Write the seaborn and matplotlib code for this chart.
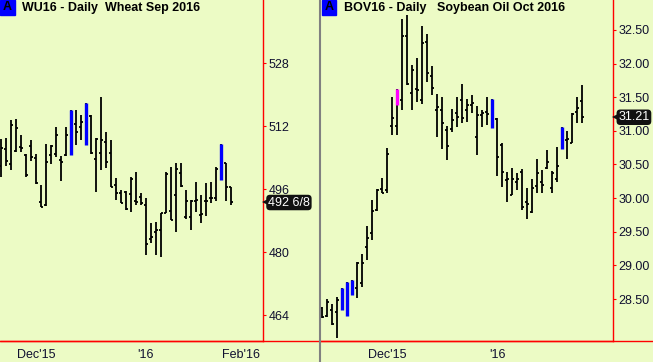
import numpy as np
import pandas as pd
import matplotlib
matplotlib.use("Agg")
import matplotlib.pyplot as plt
import matplotlib.ticker as mticker
import matplotlib.transforms as mtrans
from matplotlib.lines import Line2D
from matplotlib.patches import Rectangle
import seaborn as sns

BG = "#ECFBC5"
RED = "#FF0000"
INK = "#101030"

# exchange holidays skipped by the daily bars
HOLIDAYS = ["2015-11-26", "2015-12-25", "2016-01-01", "2016-01-18"]

# WU16 - Wheat Sep 2016, first bar 2015-11-19
wheat_start = "2015-11-19"
wheat_high = [508.8, 509.0, 513.6, 513.8, 509.8, 504.9, 508.5, 504.9, 497.1, 507.5,
              507.2, 511.8, 504.4, 511.8, 516.1, 516.1, 514.9, 517.9, 514.9, 509.0,
              519.4, 510.5, 508.5, 498.8, 495.8, 495.5, 499.1, 500.4, 495.0, 493.8,
              487.4, 487.6, 489.9, 500.4, 501.6, 502.6, 502.6, 495.8, 493.2, 497.8,
              494.5, 497.6, 497.8, 501.6, 507.5, 502.6, 496.5]
wheat_low = [499.1, 501.9, 500.9, 505.4, 505.4, 499.1, 503.2, 497.3, 491.5, 491.7,
             502.4, 504.2, 498.1, 504.4, 504.7, 507.2, 508.5, 507.2, 504.9, 495.3,
             500.9, 501.4, 496.5, 493.2, 492.5, 490.7, 490.2, 492.0, 492.0, 479.3,
             482.3, 479.3, 478.7, 489.9, 488.2, 485.1, 496.5, 488.4, 485.6, 490.2,
             487.4, 489.2, 492.5, 493.0, 498.3, 493.0, 492.0]
wheat_open = [501.9, 506.2, 502.4, 505.7, 506.7, 504.7, 507.0, 503.9, 492.7, 492.0,
              504.7, 504.9, 503.4, 504.7, None, 512.6, 511.8, None, 514.6, 503.7,
              505.2, 508.0, 505.2, 497.1, 495.0, 495.3, 494.8, 493.0, 494.0, 492.0,
              483.3, 485.1, 485.6, 489.9, 490.4, 494.5, 500.1, 488.9, 488.9, 493.0,
              489.4, 493.0, 493.8, 493.8, None, 502.6, 496.5]
wheat_close = [506.5, 503.2, 512.3, 511.5, 506.5, 499.6, 504.2, 497.6, 491.5, 502.9,
               507.0, 509.8, 502.9, 509.8, None, 510.5, 513.1, None, 505.2, 508.8,
               508.5, 502.9, 496.5, 495.0, 492.5, 491.0, 498.6, 492.7, 492.5, 482.1,
               483.8, 485.6, 489.9, 499.9, 488.2, 501.1, 496.8, 493.0, 493.0, 493.2,
               489.7, 493.0, 493.8, 501.1, None, 496.5, 492.75]
wheat_hl_idx = [14, 17, 44]
wheat_hl_top = [516.1, 517.9, 507.5]
wheat_hl_bot = [504.7, 507.2, 498.3]
wheat_hl_col = ["#0000FF", "#0000FF", "#0000FF"]
wheat_yticks = [464, 480, 496, 512, 528]
wheat_last = "492 6/8"
wheat_minor = ["2015-11-23", "2015-11-30", "2015-12-07", "2015-12-14", "2015-12-21",
               "2015-12-28", "2016-01-11", "2016-01-19", "2016-01-25"]
wheat_major = ["2015-12-01", "2016-01-04", "2016-02-01"]
wheat_major_lbl = ["Dec'15", "'16", "Feb'16"]

# BOV16 - Soybean Oil Oct 2016, first bar 2015-11-11
soy_start = "2015-11-11"
soy_high = [28.38, 28.50, 28.43, 28.53, 28.66, 28.75, 28.78, 29.05, 29.17, 29.59,
            29.97, 30.14, 30.30, 30.74, 31.50, 31.62, 32.66, 32.72, 31.98, 32.08,
            32.56, 32.44, 31.96, 31.55, 31.50, 31.07, 31.33, 31.50, 31.70, 31.47,
            31.53, 31.37, 31.31, 31.50, 31.47, 31.19, 30.82, 30.39, 30.45, 30.37,
            30.43, 30.15, 30.28, 30.58, 30.42, 30.72, 30.40, 30.76, 31.06, 31.00,
            31.27, 31.50, 31.68]
soy_low = [28.22, 28.23, 28.11, 27.92, 28.34, 28.25, 28.56, 28.51, 28.68, 29.08,
           29.38, 29.81, 30.08, 30.08, 30.94, 30.94, 31.31, 31.68, 31.31, 31.43,
           31.40, 31.73, 31.53, 30.91, 30.73, 30.57, 30.98, 31.06, 31.12, 31.13,
           31.27, 30.64, 31.06, 31.09, 31.04, 30.33, 30.17, 29.94, 30.05, 30.12,
           29.82, 29.69, 29.78, 30.08, 30.08, 30.43, 30.08, 30.24, 30.73, 30.58,
           30.82, 31.12, 31.12]
soy_open = [28.37, 28.25, 28.34, 28.31, None, None, None, 28.66, 28.74, 29.27,
            29.48, 29.82, 30.14, 30.12, 31.07, 31.07, 31.46, 32.41, 31.56, 31.62,
            31.46, 32.32, 31.82, 31.31, 31.31, 31.01, 31.03, 31.27, 31.46, 31.31,
            31.38, 30.91, 31.24, 31.28, None, 31.18, 30.79, 30.27, 30.05, 30.24,
            30.39, 29.94, 29.79, 30.18, 30.24, 30.45, 30.15, 30.28, None, 30.86,
            30.82, 31.28, 31.44]
soy_close = [28.23, 28.46, 28.13, 28.49, None, None, None, 29.04, 29.04, 29.41,
             29.81, 30.12, 30.08, 30.66, 31.19, None, 32.41, 31.70, 31.91, 31.61,
             32.31, 31.86, 31.64, 31.35, 31.12, 30.77, 31.16, 31.21, 31.19, 31.38,
             31.41, 31.24, 31.27, 31.25, None, 30.61, 30.39, 30.28, 30.28, 30.28,
             29.87, 29.91, 30.15, 30.37, 30.19, 30.54, 30.37, 30.48, None, 30.88,
             31.25, 31.34, 31.21]
soy_hl_idx = [4, 5, 6, 15, 34, 48]
soy_hl_top = [28.66, 28.75, 28.78, 31.62, 31.47, 31.06]
soy_hl_bot = [28.34, 28.25, 28.56, 31.38, 31.04, 30.73]
soy_hl_col = ["#0000FF", "#0000FF", "#0000FF", "#FF00FF", "#0000FF", "#0000FF"]
soy_yticks = [28.5, 29.0, 29.5, 30.0, 30.5, 31.0, 31.5, 32.0, 32.5]
soy_last = "31.21"
soy_minor = ["2015-11-16", "2015-11-23", "2015-11-30", "2015-12-07", "2015-12-14",
             "2015-12-21", "2015-12-28", "2016-01-11", "2016-01-19", "2016-01-25"]
soy_major = ["2015-12-01", "2016-01-04"]
soy_major_lbl = ["Dec'15", "'16"]

sns.set_theme(style="white", rc={"axes.facecolor": BG, "figure.facecolor": BG})
plt.rcParams["font.family"] = ["Liberation Sans", "DejaVu Sans"]

W, H = 653, 362
fig = plt.figure(figsize=(W / 100, H / 100), dpi=100)
base = 340.7  # pixel row of the red time axis


def day_pos(start, dates):
    cal = pd.bdate_range(start, "2016-03-31", freq="C", holidays=HOLIDAYS)
    return cal.get_indexer(pd.to_datetime(dates))


def panel(rect, start, high, low, opn, cls, hl_idx, hl_top, hl_bot, hl_col,
          xlim, ylim, yticks, yfmt, minor, major, major_lbl, last_lbl):
    ax = fig.add_axes(rect)
    x = np.arange(len(high))
    o = np.array(opn, dtype=float)
    c = np.array(cls, dtype=float)
    ax.vlines(x, low, high, color="black", lw=1.3)
    ax.hlines(o, x - 0.42, x, color="black", lw=1.3)
    ax.hlines(c, x, x + 0.42, color="black", lw=1.3)
    ax.vlines(hl_idx, hl_bot, hl_top, colors=hl_col, lw=2.4, zorder=3)

    ax.set_xlim(*xlim)
    ax.set_ylim(*ylim)
    for s in ("left", "top"):
        ax.spines[s].set_visible(False)
    for s in ("right", "bottom"):
        ax.spines[s].set_color(RED)
        ax.spines[s].set_linewidth(1.0)

    ax.yaxis.tick_right()
    ax.set_yticks(yticks)
    ax.yaxis.set_major_formatter(mticker.FormatStrFormatter(yfmt))
    ax.tick_params(axis="y", direction="out", length=2.3, width=0.8, color=RED,
                   labelcolor=INK, labelsize=9, pad=1.5)

    ax.xaxis.set_major_locator(mticker.FixedLocator(day_pos(start, major)))
    ax.xaxis.set_major_formatter(mticker.FixedFormatter(major_lbl))
    ax.xaxis.set_minor_locator(mticker.FixedLocator(day_pos(start, minor)))
    ax.tick_params(axis="x", which="major", direction="out", length=4.5, width=0.8,
                   color=RED, labelcolor=INK, labelsize=9, pad=1.5)
    ax.tick_params(axis="x", which="minor", direction="out", length=2.3, width=0.8,
                   color=RED)
    ax.set_xlabel("")
    ax.set_ylabel("")

    # last price tag on the price scale: pointer plus dark rounded box
    blend = mtrans.blended_transform_factory(ax.transAxes, ax.transData)
    tip = mtrans.offset_copy(blend, fig=fig, x=3.5, y=0, units="dots")
    ax.plot([1], [c[-1]], marker="<", ms=7, mew=0, color="#111111",
            transform=tip, clip_on=False, zorder=5)
    ax.annotate(last_lbl, xy=(1, c[-1]), xycoords=("axes fraction", "data"),
                xytext=(5, -0.5), textcoords="offset pixels", ha="left", va="center",
                color="white", fontsize=9, annotation_clip=False, zorder=6,
                bbox=dict(boxstyle="round,pad=0.14,rounding_size=0.3",
                          fc="#111111", ec="none"))
    return ax


bh = (H - base) / H
hh = base / H
panel([0, bh, 263 / W, hh], wheat_start, wheat_high, wheat_low, wheat_open,
      wheat_close, wheat_hl_idx, wheat_hl_top, wheat_hl_bot, wheat_hl_col,
      (-0.2, 52.4), (457.5, 544.1), wheat_yticks, "%d", wheat_minor, wheat_major,
      wheat_major_lbl, wheat_last)
panel([320.5 / W, bh, (613.3 - 320.5) / W, hh], soy_start, soy_high, soy_low,
      soy_open, soy_close, soy_hl_idx, soy_hl_top, soy_hl_bot, soy_hl_col,
      (-0.36, 58.2), (27.88, 32.946), soy_yticks, "%.2f", soy_minor, soy_major,
      soy_major_lbl, soy_last)

# red time axis runs under the price scales too, grey divider between charts
fig.add_artist(Line2D([0, 1], [bh, bh], transform=fig.transFigure, color=RED, lw=1.0))
fig.add_artist(Line2D([320.3 / W] * 2, [0, 1], transform=fig.transFigure,
                      color="#808080", lw=1.5, zorder=10))

# chart headers
for x0, title in [(0, "WU16 - Daily  Wheat Sep 2016"),
                  (321.5, "BOV16 - Daily   Soybean Oil Oct 2016")]:
    fig.add_artist(Rectangle((x0 / W, 1 - 15 / H), 15 / W, 15 / H,
                             transform=fig.transFigure, color="#0000FF"))
    fig.text((x0 + 7.5) / W, 1 - 7.5 / H, "A", ha="center", va="center",
             fontsize=9, fontweight="bold", color="black")
    fig.text((x0 + 22) / W, 1 - 8 / H, title, ha="left", va="center",
             fontsize=9, fontweight="bold", color="black")

fig.savefig("out.png", dpi=100, facecolor=BG)
